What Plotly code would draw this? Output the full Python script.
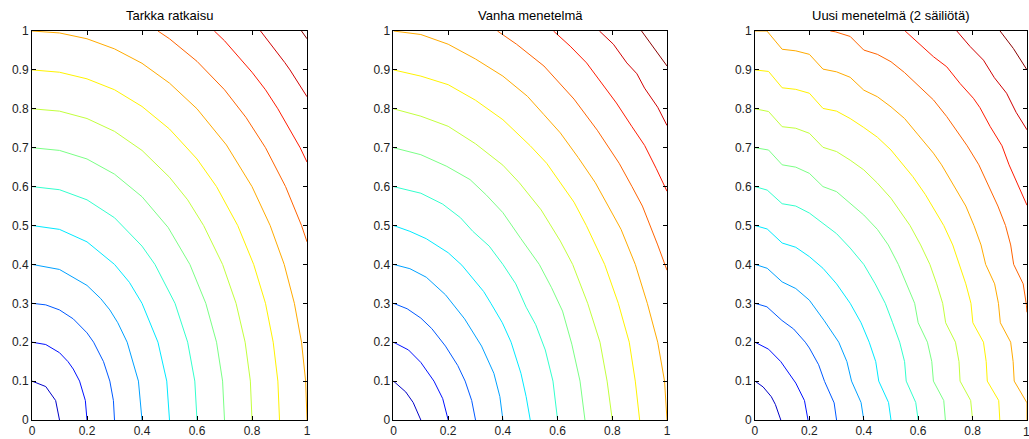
import plotly.graph_objects as go

# ---------------- data ----------------
levels = [0.1, 0.2, 0.3, 0.4, 0.5, 0.6, 0.7, 0.8, 0.9, 1.0, 1.1, 1.2, 1.3, 1.4]
level_colors = [
    "rgb(0,0,199)", "rgb(0,17,255)", "rgb(0,89,255)", "rgb(0,161,255)",
    "rgb(0,233,255)", "rgb(50,255,205)", "rgb(122,255,133)", "rgb(194,255,61)",
    "rgb(255,243,0)", "rgb(255,171,0)", "rgb(255,99,0)", "rgb(255,27,0)",
    "rgb(209,0,0)", "rgb(138,0,0)",
]
titles = ["Tarkka ratkaisu", "Vanha menetelmä", "Uusi menetelmä (2 säiliötä)"]
x_ticks = [0, 0.2, 0.4, 0.6, 0.8, 1]
x_tick_labels = ["0", "0.2", "0.4", "0.6", "0.8", "1"]
y_ticks = [0, 0.1, 0.2, 0.3, 0.4, 0.5, 0.6, 0.7, 0.8, 0.9, 1]
y_tick_labels = ["0", "0.1", "0.2", "0.3", "0.4", "0.5", "0.6", "0.7", "0.8", "0.9", "1"]

# Panel 1: exact solution contour lines (one list per level)
tarkka_x = [
    [0, 0.05, 0.086, 0.1],
    [0, 0.05, 0.1, 0.131, 0.15, 0.173, 0.194, 0.2],
    [0, 0.05, 0.1, 0.15, 0.2, 0.224, 0.26, 0.283, 0.296, 0.3],
    [0, 0.1, 0.2, 0.25, 0.283, 0.312, 0.346, 0.387, 0.4],
    [0, 0.1, 0.2, 0.3, 0.354, 0.4, 0.458, 0.49, 0.5],
    [0, 0.1, 0.2, 0.3, 0.4, 0.424, 0.447, 0.52, 0.566, 0.592, 0.6],
    [0, 0.1, 0.2, 0.3, 0.4, 0.495, 0.574, 0.632, 0.671, 0.693, 0.7],
    [0, 0.1, 0.2, 0.3, 0.4, 0.5, 0.566, 0.624, 0.693, 0.742, 0.775, 0.794, 0.8],
    [0, 0.1, 0.2, 0.3, 0.4, 0.5, 0.6, 0.636, 0.671, 0.748, 0.806, 0.849, 0.877, 0.894, 0.9],
    [0, 0.1, 0.2, 0.3, 0.4, 0.5, 0.6, 0.707, 0.8, 0.866, 0.917, 0.954, 0.98, 0.995, 1],
    [0.458, 0.5, 0.6, 0.7, 0.778, 0.849, 0.922, 0.98, 1],
    [0.663, 0.7, 0.8, 0.849, 0.894, 0.975, 1],
    [0.831, 0.9, 0.919, 0.938, 1],
    [0.98, 1],
]
tarkka_y = [
    [0.1, 0.086, 0.05, 0],
    [0.2, 0.194, 0.173, 0.15, 0.131, 0.1, 0.05, 0],
    [0.3, 0.296, 0.283, 0.26, 0.224, 0.2, 0.15, 0.1, 0.05, 0],
    [0.4, 0.387, 0.346, 0.312, 0.283, 0.25, 0.2, 0.1, 0],
    [0.5, 0.49, 0.458, 0.4, 0.354, 0.3, 0.2, 0.1, 0],
    [0.6, 0.592, 0.566, 0.52, 0.447, 0.424, 0.4, 0.3, 0.2, 0.1, 0],
    [0.7, 0.693, 0.671, 0.632, 0.574, 0.495, 0.4, 0.3, 0.2, 0.1, 0],
    [0.8, 0.794, 0.775, 0.742, 0.693, 0.624, 0.566, 0.5, 0.4, 0.3, 0.2, 0.1, 0],
    [0.9, 0.894, 0.877, 0.849, 0.806, 0.748, 0.671, 0.636, 0.6, 0.5, 0.4, 0.3, 0.2, 0.1, 0],
    [1, 0.995, 0.98, 0.954, 0.917, 0.866, 0.8, 0.707, 0.6, 0.5, 0.4, 0.3, 0.2, 0.1, 0],
    [1, 0.98, 0.922, 0.849, 0.778, 0.7, 0.6, 0.5, 0.458],
    [1, 0.975, 0.894, 0.849, 0.8, 0.7, 0.663],
    [1, 0.938, 0.919, 0.9, 0.831],
    [1, 0.98],
]

# Panel 2: old method
vanha_x = [
    [0, 0.045, 0.072, 0.1],
    [0, 0.055, 0.1, 0.148, 0.18, 0.2],
    [0, 0.05, 0.1, 0.14, 0.19, 0.235, 0.262, 0.286, 0.3],
    [0, 0.06, 0.12, 0.19, 0.26, 0.322, 0.367, 0.389, 0.4],
    [0, 0.06, 0.12, 0.2, 0.25, 0.3, 0.33, 0.356, 0.398, 0.43, 0.466, 0.485, 0.5],
    [0, 0.1, 0.18, 0.245, 0.29, 0.35, 0.4, 0.447, 0.485, 0.52, 0.555, 0.583, 0.6],
    [0, 0.1, 0.195, 0.28, 0.34, 0.4, 0.466, 0.533, 0.578, 0.618, 0.652, 0.682, 0.7],
    [0, 0.1, 0.2, 0.3, 0.4, 0.46, 0.54, 0.61, 0.655, 0.71, 0.755, 0.781, 0.8],
    [0, 0.1, 0.2, 0.3, 0.4, 0.5, 0.56, 0.61, 0.66, 0.705, 0.772, 0.822, 0.862, 0.884, 0.9],
    [0, 0.1, 0.2, 0.3, 0.4, 0.49, 0.55, 0.61, 0.675, 0.738, 0.785, 0.832, 0.884, 0.928, 0.966, 0.991, 1],
    [0.38, 0.45, 0.55, 0.6, 0.66, 0.745, 0.825, 0.872, 0.91, 0.966, 1],
    [0.585, 0.646, 0.706, 0.755, 0.815, 0.871, 0.918, 0.961, 1],
    [0.753, 0.804, 0.853, 0.89, 0.918, 0.966, 1],
    [0.907, 0.955, 1],
]
vanha_y = [
    [0.1, 0.072, 0.045, 0],
    [0.2, 0.18, 0.148, 0.1, 0.055, 0],
    [0.3, 0.286, 0.262, 0.235, 0.19, 0.14, 0.1, 0.05, 0],
    [0.4, 0.389, 0.367, 0.322, 0.26, 0.19, 0.12, 0.06, 0],
    [0.5, 0.485, 0.466, 0.43, 0.398, 0.356, 0.33, 0.3, 0.25, 0.2, 0.12, 0.06, 0],
    [0.6, 0.583, 0.555, 0.52, 0.485, 0.447, 0.4, 0.35, 0.29, 0.245, 0.18, 0.1, 0],
    [0.7, 0.682, 0.652, 0.618, 0.578, 0.533, 0.466, 0.4, 0.34, 0.28, 0.195, 0.1, 0],
    [0.8, 0.781, 0.755, 0.71, 0.655, 0.61, 0.54, 0.46, 0.4, 0.3, 0.2, 0.1, 0],
    [0.9, 0.884, 0.862, 0.822, 0.772, 0.705, 0.66, 0.61, 0.56, 0.5, 0.4, 0.3, 0.2, 0.1, 0],
    [1, 0.991, 0.966, 0.928, 0.884, 0.832, 0.785, 0.738, 0.675, 0.61, 0.55, 0.49, 0.4, 0.3, 0.2, 0.1, 0],
    [1, 0.966, 0.91, 0.872, 0.825, 0.745, 0.66, 0.6, 0.55, 0.45, 0.385],
    [1, 0.961, 0.918, 0.871, 0.815, 0.755, 0.706, 0.646, 0.588],
    [1, 0.966, 0.918, 0.89, 0.853, 0.804, 0.757],
    [1, 0.955, 0.91],
]

# Panel 3: new method (2 tanks)
uusi_x = [
    [0, 0.03, 0.06, 0.075, 0.095],
    [0, 0.05, 0.095, 0.15, 0.182, 0.195],
    [0, 0.044, 0.099, 0.142, 0.185, 0.2, 0.234, 0.256, 0.291, 0.3],
    [0, 0.045, 0.1, 0.15, 0.2, 0.255, 0.308, 0.338, 0.355, 0.39, 0.4],
    [0, 0.045, 0.1, 0.15, 0.2, 0.25, 0.3, 0.35, 0.39, 0.42, 0.444, 0.455, 0.491, 0.5],
    [0, 0.045, 0.1, 0.15, 0.2, 0.25, 0.3, 0.35, 0.4, 0.442, 0.479, 0.506, 0.532, 0.55, 0.556, 0.591, 0.6],
    [0, 0.05, 0.1, 0.15, 0.2, 0.25, 0.3, 0.35, 0.4, 0.45, 0.49, 0.527, 0.558, 0.587, 0.6, 0.634, 0.65, 0.656, 0.694, 0.7],
    [0, 0.05, 0.1, 0.15, 0.2, 0.25, 0.3, 0.35, 0.4, 0.45, 0.5, 0.535, 0.57, 0.609, 0.643, 0.668, 0.69, 0.701, 0.737, 0.75, 0.754, 0.793, 0.8],
    [0, 0.05, 0.1, 0.15, 0.2, 0.25, 0.3, 0.35, 0.4, 0.45, 0.5, 0.55, 0.58, 0.626, 0.651, 0.694, 0.727, 0.752, 0.775, 0.794, 0.801, 0.84, 0.85, 0.854, 0.896, 0.9],
    [0, 0.044, 0.1, 0.15, 0.2, 0.25, 0.3, 0.35, 0.4, 0.45, 0.5, 0.55, 0.6, 0.656, 0.686, 0.733, 0.775, 0.805, 0.831, 0.848, 0.881, 0.895, 0.902, 0.94, 0.949, 0.953, 1, 1],
    [0.277, 0.295, 0.35, 0.4, 0.45, 0.5, 0.55, 0.6, 0.656, 0.705, 0.742, 0.78, 0.823, 0.861, 0.893, 0.921, 0.94, 0.951, 0.986, 0.998, 1],
    [0.552, 0.607, 0.656, 0.705, 0.754, 0.803, 0.827, 0.865, 0.908, 0.934, 0.966, 1],
    [0.742, 0.791, 0.84, 0.88, 0.925, 0.96, 1],
    [0.901, 0.95, 1],
]
uusi_y = [
    [0.1, 0.085, 0.06, 0.04, 0],
    [0.2, 0.182, 0.15, 0.095, 0.05, 0],
    [0.3, 0.291, 0.256, 0.234, 0.2, 0.185, 0.142, 0.099, 0.044, 0],
    [0.4, 0.39, 0.355, 0.338, 0.308, 0.255, 0.2, 0.15, 0.1, 0.045, 0],
    [0.5, 0.491, 0.455, 0.444, 0.42, 0.39, 0.35, 0.3, 0.25, 0.2, 0.15, 0.1, 0.045, 0],
    [0.6, 0.591, 0.556, 0.55, 0.532, 0.506, 0.479, 0.442, 0.4, 0.35, 0.3, 0.25, 0.2, 0.15, 0.1, 0.045, 0],
    [0.7, 0.694, 0.656, 0.65, 0.634, 0.6, 0.587, 0.558, 0.527, 0.49, 0.45, 0.4, 0.35, 0.3, 0.25, 0.2, 0.15, 0.1, 0.05, 0],
    [0.8, 0.793, 0.754, 0.75, 0.737, 0.701, 0.69, 0.668, 0.643, 0.609, 0.57, 0.535, 0.5, 0.45, 0.4, 0.35, 0.3, 0.25, 0.2, 0.15, 0.1, 0.05, 0],
    [0.9, 0.896, 0.854, 0.85, 0.84, 0.801, 0.794, 0.775, 0.752, 0.727, 0.694, 0.651, 0.626, 0.58, 0.55, 0.5, 0.45, 0.4, 0.35, 0.3, 0.25, 0.2, 0.15, 0.1, 0.05, 0],
    [1, 1, 0.953, 0.949, 0.94, 0.902, 0.895, 0.881, 0.848, 0.831, 0.805, 0.775, 0.733, 0.686, 0.656, 0.6, 0.55, 0.5, 0.45, 0.4, 0.35, 0.3, 0.25, 0.2, 0.15, 0.1, 0.044, 0],
    [1, 0.998, 0.986, 0.951, 0.94, 0.921, 0.893, 0.861, 0.823, 0.78, 0.742, 0.705, 0.656, 0.6, 0.55, 0.5, 0.45, 0.4, 0.35, 0.295, 0.277],
    [1, 0.966, 0.934, 0.908, 0.865, 0.827, 0.803, 0.754, 0.705, 0.656, 0.607, 0.552],
    [1, 0.96, 0.925, 0.88, 0.84, 0.791, 0.746],
    [1, 0.955, 0.9],
]

# ---------------- figure ----------------
panels = [(tarkka_x, tarkka_y), (vanha_x, vanha_y), (uusi_x, uusi_y)]
domains = [[0.0, 0.2764], [0.3633, 0.6382], [0.7266, 1.0]]
tick_font = dict(family="Liberation Sans, Arial, sans-serif", size=12, color="#222222")

fig = go.Figure()
for p, (px, py) in enumerate(panels):
    suffix = "" if p == 0 else str(p + 1)
    for k in range(len(levels)):
        fig.add_trace(go.Scatter(
            x=px[k], y=py[k], mode="lines",
            line=dict(color=level_colors[k], width=1),
            xaxis="x" + suffix, yaxis="y" + suffix,
            showlegend=False, hoverinfo="skip",
        ))

axis_common = dict(
    range=[0, 1], ticks="inside", ticklen=4, tickwidth=1, tickcolor="black",
    showline=True, linecolor="black", linewidth=1, mirror="ticks",
    showgrid=False, zeroline=False, fixedrange=True, automargin=False,
    tickfont=tick_font,
)
layout_axes = {}
annotations = []
for p in range(3):
    suffix = "" if p == 0 else str(p + 1)
    layout_axes["xaxis" + suffix] = dict(
        axis_common, domain=domains[p], anchor="y" + suffix,
        tickvals=x_ticks, ticktext=x_tick_labels,
    )
    layout_axes["yaxis" + suffix] = dict(
        axis_common, domain=[0, 1], anchor="x" + suffix,
        tickvals=y_ticks, ticktext=y_tick_labels,
    )
    annotations.append(dict(
        text=titles[p], xref="paper", yref="paper",
        x=(domains[p][0] + domains[p][1]) / 2, y=1,
        xanchor="center", yanchor="bottom", yshift=6, showarrow=False,
        font=dict(family="Liberation Sans, Arial, sans-serif", size=13, color="black"),
    ))

# last x tick label of the right panel sits on the window edge (partly cut off)
annotations.append(dict(
    text=x_tick_labels[-1], xref="x3", yref="paper", x=x_ticks[-1], y=0,
    xanchor="center", yanchor="top", yshift=-3, showarrow=False, font=tick_font,
))

fig.update_layout(
    width=1029, height=439,
    margin=dict(l=32, r=2, t=31, b=19),
    paper_bgcolor="white", plot_bgcolor="white",
    showlegend=False, annotations=annotations,
    **layout_axes,
)

fig.write_html("out.html")
